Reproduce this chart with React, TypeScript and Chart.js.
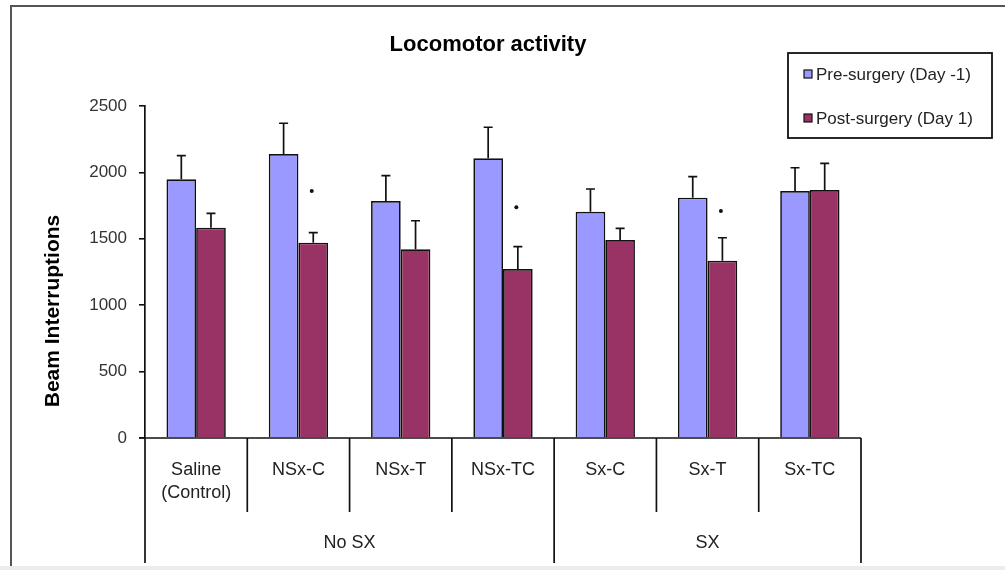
import React, { useEffect, useRef } from "react";
import { Chart, registerables } from "chart.js";

Chart.register(...registerables);

const categories: (string | string[])[] = [
  ["Saline", "(Control)"],
  "NSx-C",
  "NSx-T",
  "NSx-TC",
  "Sx-C",
  "Sx-T",
  "Sx-TC",
];
const groupLabels = ["No SX", "SX"];
const groupSizes = [4, 3];

const seriesNames = ["Pre-surgery (Day -1)", "Post-surgery (Day 1)"];
const preValues = [1948, 2139, 1785, 2106, 1704, 1810, 1860];
const preErrors = [178, 231, 190, 234, 171, 158, 175];
const postValues = [1584, 1471, 1421, 1273, 1491, 1335, 1867];
const postErrors = [108, 75, 215, 168, 88, 173, 201];
// significance markers (value at which the asterisk sits), null = none
const starValues: (number | null)[] = [null, 1860, null, 1737, null, 1709, null];

const yTicks = [0, 500, 1000, 1500, 2000, 2500];

const FONT = "'Liberation Sans', Arial, sans-serif";
const PRE_COLOR = "#9999FF";
const POST_COLOR = "#993366";

const decorPlugin = {
  id: "decor",
  afterDatasetsDraw(chart: any) {
    const ctx = chart.ctx;
    const y = chart.scales.y;
    const x = chart.scales.x;
    const errs = [preErrors, postErrors];
    ctx.save();
    // error bars
    ctx.strokeStyle = "#111";
    ctx.lineWidth = 1.7;
    chart.data.datasets.forEach((ds: any, di: number) => {
      const meta = chart.getDatasetMeta(di);
      meta.data.forEach((el: any, i: number) => {
        const top = y.getPixelForValue(ds.data[i] + errs[di][i]);
        ctx.beginPath();
        ctx.moveTo(el.x, el.y);
        ctx.lineTo(el.x, top);
        ctx.moveTo(el.x - 4.5, top);
        ctx.lineTo(el.x + 4.5, top);
        ctx.stroke();
      });
    });
    // significance markers
    const postMeta = chart.getDatasetMeta(1);
    ctx.fillStyle = "#111";
    starValues.forEach((v, i) => {
      if (v == null) return;
      const el = postMeta.data[i];
      ctx.beginPath();
      ctx.arc(el.x - 1.5, y.getPixelForValue(v), 2, 0, Math.PI * 2);
      ctx.fill();
    });

    // category axis with dividers
    const n = categories.length;
    const left = x.left;
    const right = x.right;
    const w = (right - left) / n;
    const base = y.getPixelForValue(0);
    ctx.strokeStyle = "#111";
    ctx.lineWidth = 1.7;
    ctx.beginPath();
    ctx.moveTo(left - 6, base);
    ctx.lineTo(right, base);
    ctx.stroke();
    // group boundaries
    const groupBounds: number[] = [0];
    groupSizes.forEach((s) => groupBounds.push(groupBounds[groupBounds.length - 1] + s));
    for (let i = 0; i <= n; i++) {
      const px = left + i * w;
      const isGroup = groupBounds.includes(i);
      ctx.beginPath();
      ctx.moveTo(px, base);
      ctx.lineTo(px, isGroup ? 563 : 512);
      ctx.stroke();
    }
    ctx.fillStyle = "#222";
    ctx.font = `18px ${FONT}`;
    ctx.textAlign = "center";
    ctx.textBaseline = "middle";
    categories.forEach((c, i) => {
      const cx = x.getPixelForValue(i);
      const lines = Array.isArray(c) ? c : [c];
      lines.forEach((t, li) => ctx.fillText(t, cx, 470 + li * 23));
    });
    groupLabels.forEach((g, gi) => {
      const a = left + groupBounds[gi] * w;
      const b = left + groupBounds[gi + 1] * w;
      ctx.fillText(g, (a + b) / 2, 543);
    });

    // title
    ctx.font = `bold 22px ${FONT}`;
    ctx.fillStyle = "#000";
    ctx.fillText("Locomotor activity", 488, 45);

    // y axis title
    ctx.save();
    ctx.translate(53, 311);
    ctx.rotate(-Math.PI / 2);
    ctx.font = `bold 21px ${FONT}`;
    ctx.fillText("Beam Interruptions", 0, 0);
    ctx.restore();

    // legend
    ctx.strokeStyle = "#111";
    ctx.lineWidth = 1.8;
    ctx.strokeRect(788, 53, 204, 85);
    const colors = [PRE_COLOR, POST_COLOR];
    ctx.font = `17px ${FONT}`;
    ctx.textAlign = "left";
    seriesNames.forEach((s, i) => {
      const cy = i === 0 ? 74 : 118;
      ctx.fillStyle = colors[i];
      ctx.fillRect(804, cy - 4, 8, 8);
      ctx.lineWidth = 1.2;
      ctx.strokeRect(804, cy - 4, 8, 8);
      ctx.fillStyle = "#222";
      ctx.fillText(s, 816, cy + 1);
    });

    // outer frame
    ctx.strokeStyle = "#555";
    ctx.lineWidth = 2;
    ctx.beginPath();
    ctx.moveTo(11, 570);
    ctx.lineTo(11, 6);
    ctx.lineTo(1005, 6);
    ctx.stroke();
    ctx.fillStyle = "#ececec";
    ctx.fillRect(0, 566, 1005, 4);
    ctx.restore();
  },
};

export default function App() {
  const ref = useRef<HTMLCanvasElement>(null);
  useEffect(() => {
    if (!ref.current) return;
    const chart = new Chart(ref.current, {
      type: "bar",
      data: {
        labels: categories as any,
        datasets: [
          {
            label: seriesNames[0],
            data: preValues,
            backgroundColor: PRE_COLOR,
            borderColor: "#111",
            borderWidth: 1.7,
            categoryPercentage: 0.58,
            barPercentage: 1,
          },
          {
            label: seriesNames[1],
            data: postValues,
            backgroundColor: POST_COLOR,
            borderColor: "#111",
            borderWidth: 1.7,
            categoryPercentage: 0.58,
            barPercentage: 1,
          },
        ],
      },
      options: {
        responsive: false,
        animation: false,
        layout: { padding: { top: 106, right: 144, bottom: 132, left: 0 } },
        plugins: {
          legend: { display: false },
          title: { display: false },
          tooltip: { enabled: false },
        },
        scales: {
          x: { display: false },
          y: {
            min: 0,
            max: 2500,
            afterFit(scale: any) {
              scale.width = 145;
            },
            afterBuildTicks(scale: any) {
              scale.ticks = yTicks.map((v) => ({ value: v }));
            },
            ticks: {
              font: { family: FONT, size: 17 },
              color: "#333",
              padding: 12,
              callback: (v: any) => String(v),
            },
            grid: {
              drawOnChartArea: false,
              drawTicks: true,
              tickLength: 6,
              color: "#111",
              lineWidth: 1.6,
            },
            border: { display: true, color: "#111", width: 1.7 },
          },
        },
      },
      plugins: [decorPlugin],
    });
    return () => chart.destroy();
  }, []);
  return (
    <canvas
      ref={ref}
      width={1005}
      height={570}
      style={{ position: "absolute", left: 0, top: 0, display: "block", background: "#fff" }}
    />
  );
}
